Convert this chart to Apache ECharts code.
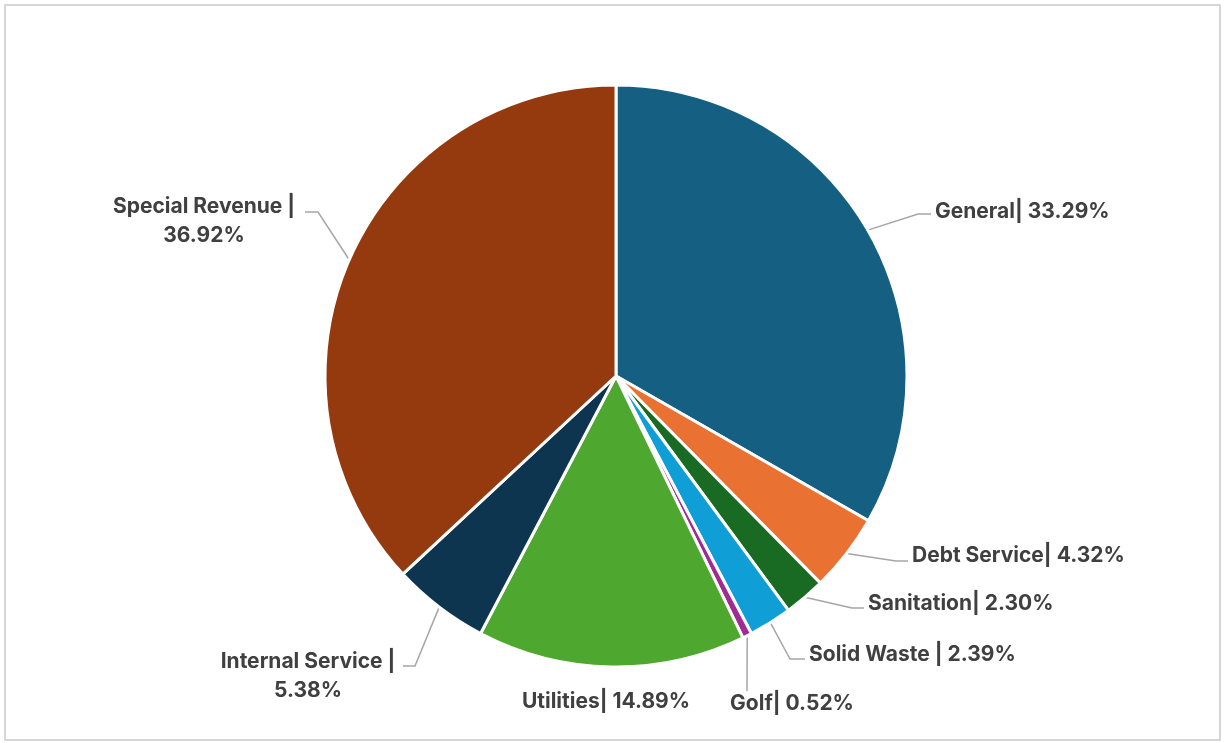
<!DOCTYPE html>
<html>
<head>
<meta charset="utf-8">
<title>Fund Share</title>
<script src="https://cdn.jsdelivr.net/npm/echarts@6/dist/echarts.min.js"></script>
<style>
  html, body { margin: 0; padding: 0; background: #ffffff; }
  #chart { width: 1224px; height: 743px; }
</style>
</head>
<body>
<div id="chart"></div>
<script>
// Fund categories, clockwise from 12 o'clock
const categories = ['General', 'Debt Service', 'Sanitation', 'Solid Waste ', 'Golf', 'Utilities', 'Internal Service', 'Special Revenue'];
// Share of total, percent
const shares = [33.29, 4.32, 2.30, 2.39, 0.52, 14.89, 5.38, 36.92];
// Labels that wrap the value onto a second line
const twoLineLabels = ['Internal Service', 'Special Revenue'];

// Slice colours
const sliceColors = ['#156082', '#E97132', '#196B24', '#0F9ED5', '#A02B93', '#4EA72E', '#0E3550', '#953A0F'];

// Where each label sits (x, y = anchor of the text block) and where its leader line ends
const labelSpots = [
  { x: 935, y: 212, align: 'left',   tail: [931, 214], run: 13 },
  { x: 912, y: 556, align: 'left',   tail: [908, 561], run: 12 },
  { x: 868, y: 604, align: 'left',   tail: [864, 608], run: 12 },
  { x: 809, y: 655, align: 'left',   tail: [805, 659], run: 15 },
  { x: 792, y: 704, align: 'center', tail: [747, 691], run: 0 },
  { x: 606, y: 702, align: 'center', tail: null,       run: 0 },
  { x: 308, y: 676, align: 'center', tail: [403, 666], run: -12 },
  { x: 204, y: 221, align: 'center', tail: [305, 212], run: -13 }
];

const chart = echarts.init(document.getElementById('chart'), null, { renderer: 'canvas' });

const option = {
  backgroundColor: '#ffffff',
  animation: false,
  graphic: [{
    type: 'rect',
    shape: { x: 5, y: 5, width: 1215, height: 735 },
    style: { fill: 'none', stroke: '#d6d6d6', lineWidth: 2 },
    silent: true
  }],
  series: [{
    type: 'pie',
    center: [616, 376],
    radius: 291,
    startAngle: 90,
    clockwise: true,
    avoidLabelOverlap: false,
    itemStyle: { borderColor: '#ffffff', borderWidth: 3 },
    label: {
      show: true,
      position: 'outside',
      fontFamily: 'Inter',
      fontWeight: 700,
      fontSize: 21,
      lineHeight: 29,
      color: '#404040',
      formatter: function (p) {
        const v = p.value.toFixed(2) + '%';
        return twoLineLabels.indexOf(p.name) >= 0 ? p.name + ' |\n' + v : p.name + '| ' + v;
      }
    },
    labelLine: {
      show: true,
      length: 10,
      length2: 10,
      lineStyle: { color: '#a6a6a6', width: 1.5 }
    },
    labelLayout: function (params) {
      const s = labelSpots[params.dataIndex];
      const out = { x: s.x, y: s.y, align: s.align, verticalAlign: 'middle' };
      const start = params.labelLinePoints ? params.labelLinePoints[0] : null;
      if (s.tail && start) {
        const elbow = [s.tail[0] - s.run, s.tail[1]];
        out.labelLinePoints = [start, elbow, s.tail];
      } else {
        out.labelLinePoints = start ? [start, start, start] : undefined;
      }
      return out;
    },
    data: categories.map(function (name, i) {
      return {
        name: name,
        value: shares[i],
        itemStyle: { color: sliceColors[i] },
        labelLine: { show: labelSpots[i].tail !== null }
      };
    })
  }]
};

chart.setOption(option);
</script>
</body>
</html>
